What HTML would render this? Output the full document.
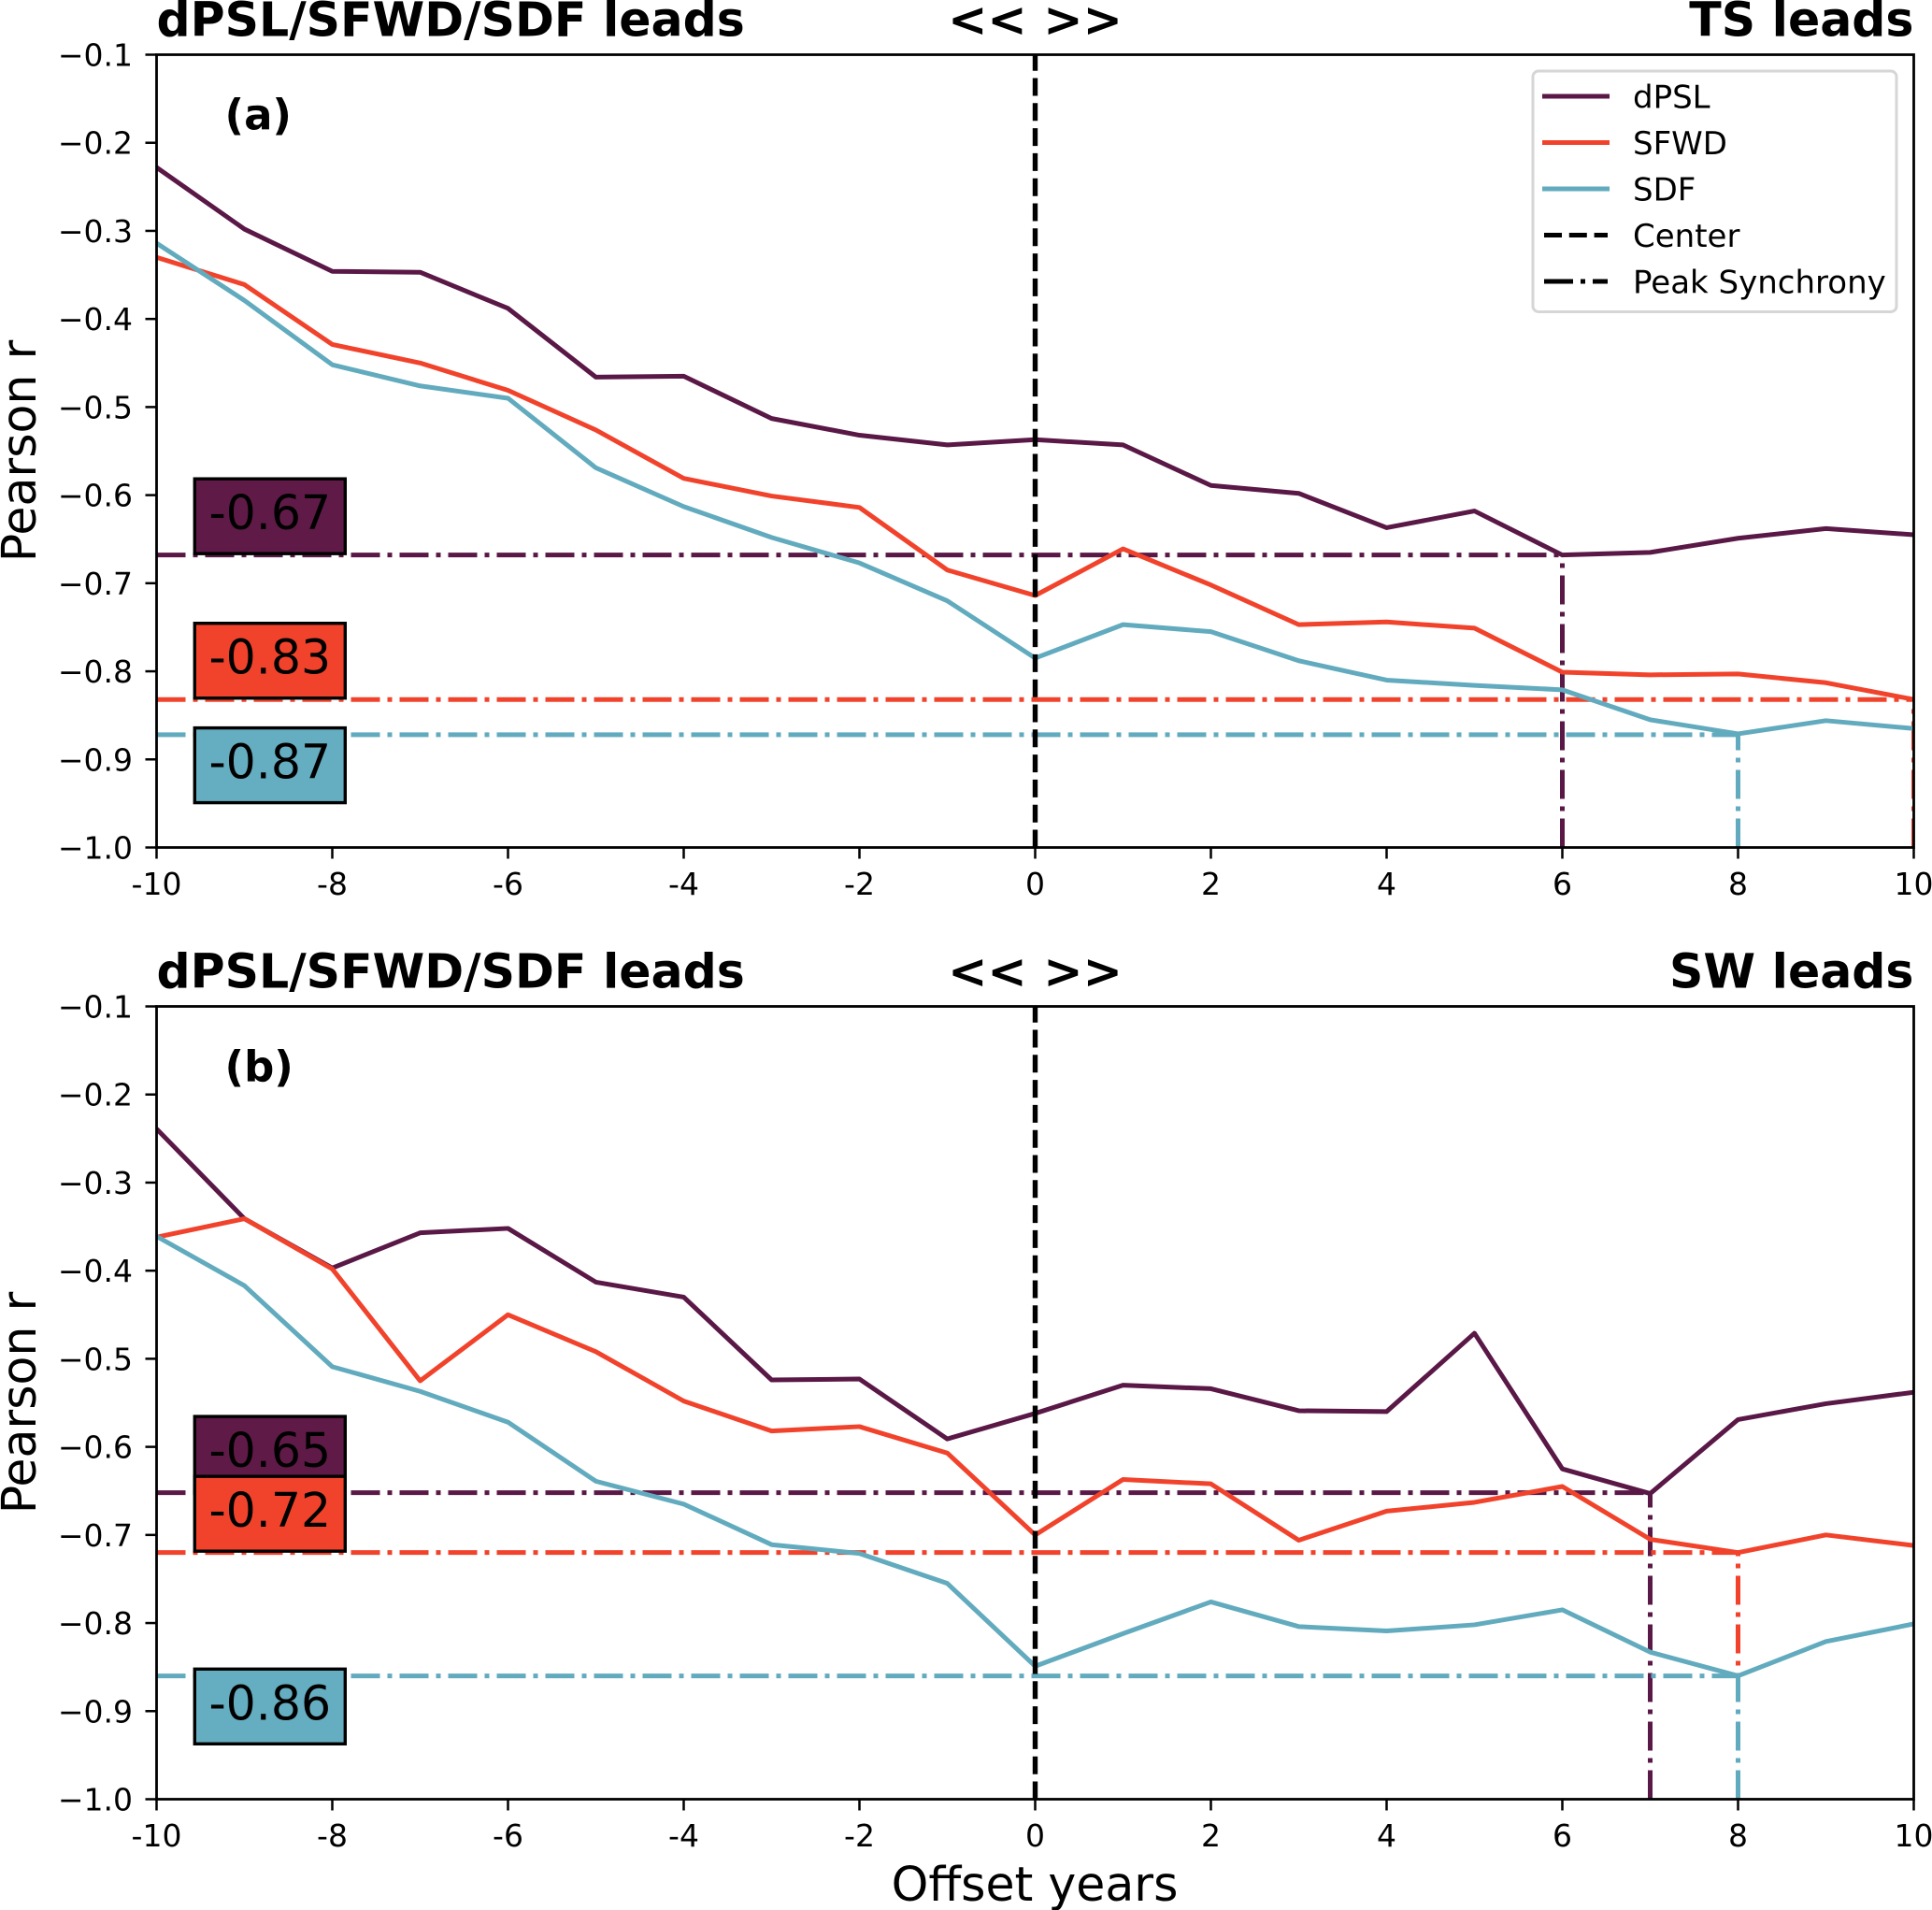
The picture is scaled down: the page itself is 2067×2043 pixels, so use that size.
<!DOCTYPE html>
<html lang="en">
<head>
<meta charset="utf-8">
<title>Pearson r lead-lag correlations</title>
<style>
html,body{margin:0;padding:0;background:#fff;}
svg{display:block;font-family:"DejaVu Sans","Liberation Sans",sans-serif;}
</style>
</head>
<body>
<svg id="chart" xmlns="http://www.w3.org/2000/svg" width="2067" height="2043" viewBox="0 0 2067 2043">
  <defs>
    <clipPath id="clip-a"><rect x="167.5" y="58.5" width="1880" height="848"></rect></clipPath>
    <clipPath id="clip-b"><rect x="167.5" y="1076.5" width="1880" height="848"></rect></clipPath>
  </defs>
</svg>
<script>
// ---- shared data ----
const offsets = [-10,-9,-8,-7,-6,-5,-4,-3,-2,-1,0,1,2,3,4,5,6,7,8,9,10];
const xTickValues = [-10,-8,-6,-4,-2,0,2,4,6,8,10];
const xTickLabels = ['-10','-8','-6','-4','-2','0','2','4','6','8','10'];
const yTickValues = [-0.1,-0.2,-0.3,-0.4,-0.5,-0.6,-0.7,-0.8,-0.9,-1.0];
const yTickLabels = ['\u22120.1','\u22120.2','\u22120.3','\u22120.4','\u22120.5','\u22120.6','\u22120.7','\u22120.8','\u22120.9','\u22121.0'];
const seriesNames = ['dPSL','SFWD','SDF'];
const seriesColors = ['#5a1846','#f1432c','#62abbe'];
const boxFills = ['#5f1a48','#f1432c','#65adc0'];
const centerOffset = 0;

// ---- panel (a) values ----
const dpslA = [-0.228,-0.298,-0.346,-0.347,-0.388,-0.466,-0.465,-0.513,-0.532,-0.543,-0.537,-0.543,-0.589,-0.598,-0.637,-0.618,-0.668,-0.665,-0.649,-0.638,-0.645];
const sfwdA = [-0.330,-0.361,-0.429,-0.450,-0.481,-0.526,-0.581,-0.601,-0.614,-0.685,-0.714,-0.661,-0.702,-0.747,-0.744,-0.751,-0.801,-0.804,-0.803,-0.813,-0.832];
const sdfA = [-0.314,-0.379,-0.452,-0.476,-0.490,-0.569,-0.613,-0.648,-0.677,-0.720,-0.785,-0.747,-0.755,-0.788,-0.810,-0.816,-0.821,-0.855,-0.871,-0.856,-0.865];
const peakValueA = [-0.668,-0.832,-0.872];
const peakOffsetA = [6,10,8];
const peakLabelA = ['-0.67','-0.83','-0.87'];

// ---- panel (b) values ----
const dpslB = [-0.239,-0.341,-0.397,-0.357,-0.352,-0.413,-0.430,-0.524,-0.523,-0.591,-0.562,-0.530,-0.534,-0.559,-0.560,-0.471,-0.625,-0.653,-0.569,-0.551,-0.538];
const sfwdB = [-0.362,-0.341,-0.398,-0.525,-0.450,-0.492,-0.548,-0.582,-0.577,-0.607,-0.700,-0.637,-0.642,-0.706,-0.673,-0.663,-0.645,-0.705,-0.720,-0.700,-0.712];
const sdfB = [-0.361,-0.417,-0.509,-0.537,-0.572,-0.639,-0.665,-0.711,-0.721,-0.755,-0.849,-0.812,-0.776,-0.804,-0.809,-0.802,-0.785,-0.833,-0.860,-0.821,-0.801];
const peakValueB = [-0.652,-0.720,-0.860];
const peakOffsetB = [7,8,8];
const peakLabelB = ['-0.65','-0.72','-0.86'];

// ---- plotting code ----
const SVGNS = 'http://www.w3.org/2000/svg';
const root = document.getElementById('chart');
const AX_L = 167.5, AX_R = 2047.5, AX_H = 848;
const FS_BIG = 50.5, FS_TICK = 33, FS_LEG = 34, FS_TAG = 45;
const DASHDOT = '31 8 5 8';
const DASHED = '19 7.8';

function mk(tag, attrs, parent, text) {
  const el = document.createElementNS(SVGNS, tag);
  for (const k in attrs) el.setAttribute(k, attrs[k]);
  if (text !== undefined) el.textContent = text;
  parent.appendChild(el);
  return el;
}
const xScale = v => AX_L + (v + 10) / 20 * (AX_R - AX_L);

function drawPanel(cfg) {
  const top = cfg.top, bottom = top + AX_H;
  const yScale = v => top + (-0.1 - v) / 0.9 * AX_H;
  const g = mk('g', {}, root);
  
  

  const plot = mk('g', {'clip-path': 'url(#clip-' + cfg.key + ')'}, g);
  
  

  // peak synchrony verticals, bottom up
  seriesNames.forEach((name, i) => {
    const px = xScale(cfg.peakOffset[i]);
    const v = mk('line', {x1: px, x2: px, y1: yScale(-1), y2: yScale(cfg.peakValue[i]), stroke: seriesColors[i], 'stroke-width': 5, 'stroke-dasharray': DASHDOT}, plot);
    
    
  });
  // peak synchrony horizontals
  seriesNames.forEach((name, i) => {
    const py = yScale(cfg.peakValue[i]);
    const h = mk('line', {x1: xScale(-10), x2: xScale(cfg.peakOffset[i]), y1: py, y2: py, stroke: seriesColors[i], 'stroke-width': 5, 'stroke-dasharray': DASHDOT}, plot);
    
    
  });
  // series
  cfg.series.forEach((vals, i) => {
    const pts = vals.map((v, j) => xScale(offsets[j]).toFixed(2) + ',' + yScale(v).toFixed(2)).join(' ');
    const line = mk('polyline', {points: pts, fill: 'none', stroke: seriesColors[i], 'stroke-width': 5, 'stroke-linejoin': 'round'}, plot);
    
    
  });
  // centre line, bottom up
  const cx = xScale(centerOffset);
  const center = mk('line', {x1: cx, x2: cx, y1: bottom, y2: top, stroke: '#000', 'stroke-width': 5.4, 'stroke-dasharray': DASHED}, plot);
  
  

  // peak value boxes
  const BOX_L = 208.3, BOX_W = 161, BOX_H = 80;
  seriesNames.forEach((name, i) => {
    const py = yScale(cfg.peakValue[i]);
    const boxTop = i === 2 ? py - 7.3 : py - BOX_H - 1.5;
    const boxG = mk('g', {}, g);
    
    
    mk('rect', {x: BOX_L, y: boxTop, width: BOX_W, height: BOX_H, fill: boxFills[i], stroke: '#000', 'stroke-width': 3.4}, boxG);
    mk('text', {x: BOX_L + BOX_W / 2, y: boxTop + 54, 'font-size': FS_BIG, 'text-anchor': 'middle', fill: '#000'}, boxG, cfg.peakLabel[i]);
  });

  // spines
  const frame = mk('rect', {x: AX_L, y: top, width: AX_R - AX_L, height: AX_H, fill: 'none', stroke: '#000', 'stroke-width': 2.8}, g);
  
  

  // y ticks
  yTickValues.forEach((v, i) => {
    const y = yScale(v);
    const t = mk('line', {x1: AX_L - 12, x2: AX_L, y1: y, y2: y, stroke: '#000', 'stroke-width': 2.5}, g);
    
    
    const l = mk('text', {x: 142, y: y + 12, 'font-size': FS_TICK, 'text-anchor': 'end', fill: '#000'}, g, yTickLabels[i]);
    
    
  });
  // x ticks
  xTickValues.forEach((v, i) => {
    const x = xScale(v);
    const t = mk('line', {x1: x, x2: x, y1: bottom, y2: bottom + 12, stroke: '#000', 'stroke-width': 2.5}, g);
    
    
    const l = mk('text', {x: x, y: bottom + 50.5, 'font-size': FS_TICK, 'text-anchor': 'middle', fill: '#000'}, g, xTickLabels[i]);
    
    
  });

  // titles
  const tl = mk('text', {x: AX_L, y: top - 20, 'font-size': FS_BIG, 'font-weight': 700, fill: '#000'}, g, 'dPSL/SFWD/SDF leads');
  
  
  const tc = mk('text', {x: cx, y: top - 20, 'font-size': FS_BIG, 'font-weight': 700, 'text-anchor': 'middle', fill: '#000'}, g, '<< >>');
  
  
  const tr = mk('text', {x: AX_R, y: top - 20, 'font-size': FS_BIG, 'font-weight': 700, 'text-anchor': 'end', fill: '#000'}, g, cfg.rightTitle);
  
  

  // panel letter
  const tag = mk('text', {x: 240.5, y: top + 80, 'font-size': FS_TAG, 'font-weight': 700, fill: '#000'}, g, cfg.tag);
  
  

  // y label
  const cy = top + AX_H / 2;
  const yl = mk('text', {x: 38, y: cy, 'font-size': FS_BIG, 'text-anchor': 'middle', fill: '#000', transform: 'rotate(-90 38 ' + cy + ')'}, g, 'Pearson r');
  
  
}

drawPanel({key: 'a', top: 58.5, tag: '(a)', rightTitle: 'TS leads', series: [dpslA, sfwdA, sdfA], peakValue: peakValueA, peakOffset: peakOffsetA, peakLabel: peakLabelA});
drawPanel({key: 'b', top: 1076.5, tag: '(b)', rightTitle: 'SW leads', series: [dpslB, sfwdB, sdfB], peakValue: peakValueB, peakOffset: peakOffsetB, peakLabel: peakLabelB});

// x axis title
const xTitle = mk('text', {x: 1107, y: 2033, 'font-size': FS_BIG, 'text-anchor': 'middle', fill: '#000'}, root, 'Offset years');



// legend
const legend = mk('g', {}, root);


mk('rect', {x: 1640, y: 76, width: 389, height: 257.5, rx: 6, ry: 6, fill: '#fff', 'fill-opacity': 0.9, stroke: '#d6d6d6', 'stroke-width': 3}, legend);
const legendLabels = ['dPSL','SFWD','SDF','Center','Peak Synchrony'];
const legendColors = ['#5a1846','#f1432c','#62abbe','#000','#000'];
const legendDash = ['none','none','none',DASHED,DASHDOT];
legendLabels.forEach((label, i) => {
  const y = 103 + i * 49.5;
  const entry = mk('g', {}, legend);
  
  
  const dashed = legendDash[i] !== 'none';
  mk('line', {x1: dashed ? 1652 : 1650, x2: dashed ? 1720 : 1722, y1: y, y2: y, stroke: legendColors[i], 'stroke-width': 5, 'stroke-dasharray': legendDash[i]}, entry);
  mk('text', {x: 1747, y: y + 12.6, 'font-size': FS_LEG, fill: '#000'}, entry, label);
});
</script>
</body>
</html>
